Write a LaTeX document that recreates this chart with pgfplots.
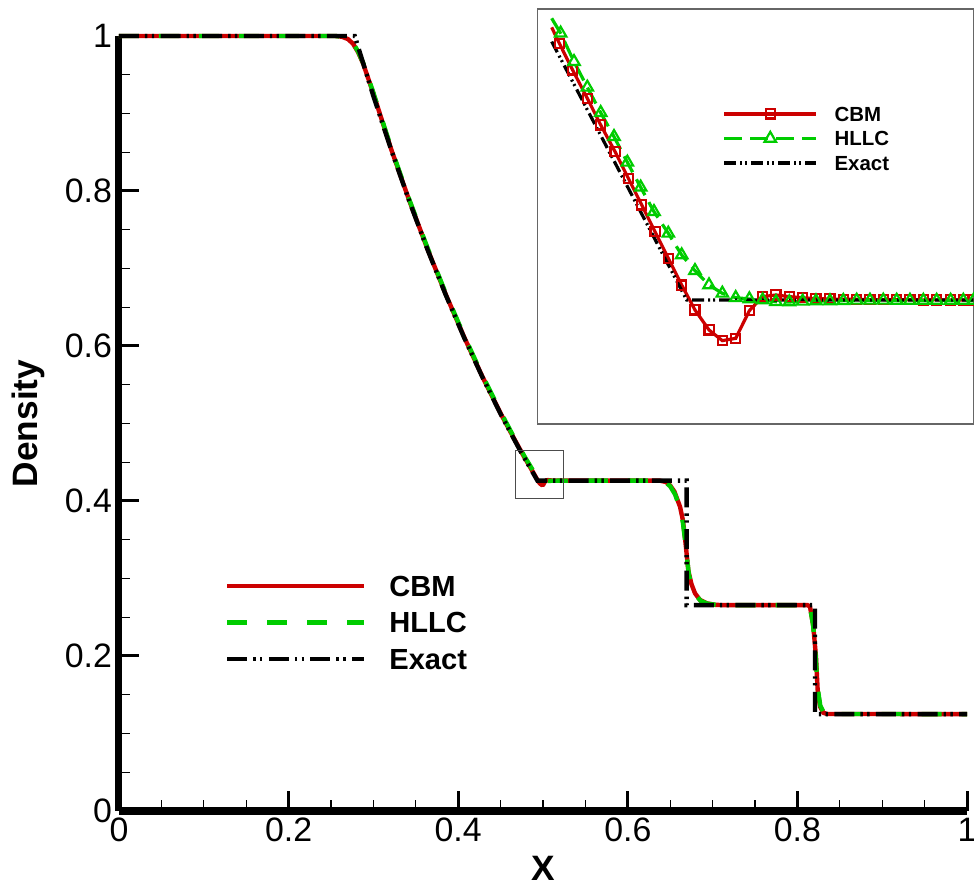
\documentclass[border=0pt]{standalone}
\usepackage{fontspec}
\setmainfont{Liberation Sans}
\usepackage{pgfplots}
\pgfplotsset{compat=1.18}
\definecolor{cbmred}{RGB}{204,0,0}
\definecolor{hllcgreen}{RGB}{0,204,0}

\begin{document}
\begin{tikzpicture}
\useasboundingbox (-59.5bp,-37.5bp) rectangle (427.5bp,405.5bp);
% main plot
\begin{axis}[
  at={(0,0)}, anchor=south west,
  width=424bp, height=387.5bp, scale only axis,
  xmin=0, xmax=1, ymin=0, ymax=1,
  axis lines=left, axis line style={-, line width=3.5bp},
  clip=false,
  xtick={0,0.2,0.4,0.6,0.8,1}, ytick={0,0.2,0.4,0.6,0.8,1},
  minor x tick num=3, minor y tick num=3,
  tick align=inside, major tick length=10bp, minor tick length=5.5bp,
  major tick style={line width=1.5bp, black}, minor tick style={line width=0.6bp, black},
  tick label style={font=\fontsize{17}{20}\selectfont},
  /pgf/number format/assume math mode=true,
  xlabel={X}, ylabel={Density},
  label style={font=\bfseries\fontsize{17.7}{21}\selectfont},
  xlabel style={at={(axis description cs:0.5,-0.0735)}, anchor=center, inner sep=0pt, text depth=0pt},
  ylabel style={at={(axis description cs:-0.1073,0.5)}, anchor=center},
  legend style={draw=none, fill=none, inner sep=0pt, outer sep=0pt,
    at={(axis cs:0.125,0.3038)}, anchor=north west, row sep=7.8bp, column sep=11.5bp,
    nodes={inner sep=0pt, text height=10.45bp, text depth=0bp,
      font=\bfseries\fontsize{14.6}{17}\selectfont}},
  legend cell align=left,
  legend image code/.code={\draw[#1] (0bp,0bp) -- (68.5bp,0bp);},
]
\addplot[cbmred, line width=2.2bp] coordinates {
(0,1)(0.255,1)(0.263,0.999)(0.270,0.996)(0.276,0.990)(0.282,0.979)(0.288,0.964)
(0.2996,0.927)(0.3211,0.8535)(0.34265,0.7866)(0.3642,0.724)(0.38575,0.6655)
(0.4073,0.6108)(0.42885,0.5598)(0.4504,0.5122)(0.466,0.4803)(0.47498,0.46237)
(0.47603,0.46025)(0.47786,0.45672)(0.47988,0.45296)(0.48172,0.44943)(0.48369,0.44590)
(0.48552,0.44236)(0.48736,0.43883)(0.48919,0.43529)(0.49102,0.43176)(0.49286,0.42822)
(0.49469,0.42491)(0.49662,0.42226)(0.49845,0.42085)(0.50029,0.42115)(0.50217,0.42482)
(0.50400,0.42668)(0.50583,0.42690)(0.50767,0.42668)(0.50950,0.42654)(0.51133,0.42641)
(0.51326,0.42637)(0.51509,0.42632)(0.51693,0.42632)(0.51876,0.42628)(0.52059,0.42628)
(0.52243,0.42626)(0.52426,0.42626)(0.52610,0.42625)(0.52793,0.42625)(0.52985,0.42624)
(0.53160,0.42624)(0.54,0.4262)(0.638,0.4262)(0.645,0.4245)(0.650,0.420)(0.655,0.412)
(0.6616,0.3926)(0.665,0.375)(0.6675,0.352)(0.6714,0.310)(0.675,0.293)(0.6792,0.281)
(0.685,0.2725)(0.693,0.268)(0.703,0.266)(0.715,0.2656)(0.812,0.2656)(0.8149,0.2636)
(0.8188,0.2378)(0.8219,0.199)(0.8239,0.156)(0.8267,0.1346)(0.8306,0.1268)(0.835,0.1252)(1,0.125)};
\addlegendentry{CBM}
\addplot[hllcgreen, line width=2.2bp, dash pattern=on 10bp off 10bp] coordinates {
(0,1)(0.255,1)(0.263,0.999)(0.270,0.996)(0.276,0.991)(0.282,0.980)(0.288,0.965)
(0.2996,0.928)(0.3211,0.855)(0.34265,0.788)(0.3642,0.7255)(0.38575,0.667)
(0.4073,0.6125)(0.42885,0.5615)(0.4504,0.514)(0.466,0.4818)(0.47498,0.46357)
(0.47621,0.46158)(0.47805,0.45782)(0.47988,0.45442)(0.48172,0.45106)(0.48355,0.44788)
(0.48539,0.44448)(0.48722,0.44117)(0.48905,0.43794)(0.49102,0.43507)(0.49286,0.43220)
(0.49469,0.43012)(0.49662,0.42822)(0.49845,0.42712)(0.50029,0.42654)(0.50217,0.42637)
(0.50400,0.42623)(0.50583,0.42601)(0.50767,0.42597)(0.50950,0.42606)(0.51133,0.42610)
(0.51326,0.42610)(0.51509,0.42615)(0.51693,0.42619)(0.51876,0.42619)(0.52059,0.42619)
(0.52243,0.42618)(0.52426,0.42618)(0.52610,0.42617)(0.52793,0.42617)(0.52985,0.42617)
(0.53160,0.42617)(0.54,0.4262)(0.636,0.4262)(0.644,0.4245)(0.650,0.419)(0.656,0.408)
(0.661,0.392)(0.665,0.372)(0.668,0.345)(0.672,0.305)(0.676,0.289)(0.680,0.279)
(0.686,0.271)(0.694,0.2675)(0.704,0.266)(0.716,0.2656)(0.812,0.2656)(0.815,0.262)
(0.8185,0.240)(0.8215,0.200)(0.824,0.158)(0.827,0.136)(0.831,0.127)(0.836,0.1252)(1,0.125)};
\addlegendentry{HLLC}
\addplot[black, line width=2.2bp, dash pattern=on 10bp off 3bp on 1.2bp off 2.2bp on 1.2bp off 3.2bp] coordinates {
(0,1)(0.278,1)(0.29955,0.9240)(0.3211,0.8527)(0.34265,0.7859)(0.3642,0.7233)
(0.38575,0.6648)(0.4073,0.6101)(0.42885,0.5591)(0.4504,0.5115)(0.47195,0.4673)
(0.4935,0.4262)(0.6694,0.4262)(0.6694,0.2656)(0.8208,0.2656)(0.8208,0.125)(1,0.125)};
\addlegendentry{Exact}
\draw[black!70, line width=0.6bp] (axis cs:0.4676,0.4035) rectangle (axis cs:0.5237,0.4649);
\end{axis}
% inset
\begin{axis}[
  at={(209.15bp,193.5bp)}, anchor=south west,
  width=218.1bp, height=207.5bp, scale only axis,
  xmin=0.473, xmax=0.533, ymin=0.4098, ymax=0.4648,
  xtick=\empty, ytick=\empty,
  axis line style={black!60, line width=0.8bp},
  axis background/.style={fill=white},
  legend style={draw=none, fill=none, inner sep=0pt, outer sep=0pt,
    at={(axis cs:0.4985,0.45186)}, anchor=north west, row sep=4.9bp, column sep=8.35bp,
    nodes={inner sep=0pt, text height=7.34bp, text depth=0bp,
      font=\bfseries\fontsize{10.25}{12}\selectfont}},
  legend cell align=left,
  legend image code/.code={\draw[#1, mark repeat=2, mark phase=2] plot coordinates {(0bp,0bp) (23bp,0bp) (46bp,0bp)};},
]
\addplot[cbmred, line width=1.6bp, mark=square, mark size=2.3bp, mark phase=2,
  mark options={solid, line width=1.1bp}] coordinates {
(0.47498,0.46237)
(0.47603,0.46025)(0.47786,0.45672)(0.47988,0.45296)(0.48172,0.44943)(0.48369,0.44590)
(0.48552,0.44236)(0.48736,0.43883)(0.48919,0.43529)(0.49102,0.43176)(0.49286,0.42822)
(0.49469,0.42491)(0.49662,0.42226)(0.49845,0.42085)(0.50029,0.42115)(0.50217,0.42482)
(0.50400,0.42668)(0.50583,0.42690)(0.50767,0.42668)(0.50950,0.42654)(0.51133,0.42641)
(0.51326,0.42637)(0.51509,0.42632)(0.51693,0.42632)(0.51876,0.42628)(0.52059,0.42628)
(0.52243,0.42626)(0.52426,0.42626)(0.52610,0.42625)(0.52793,0.42625)(0.52985,0.42624)
(0.53160,0.42624)(0.533,0.42624)};
\addlegendentry{CBM}
\addplot[hllcgreen, line width=1.6bp, dash pattern=on 9bp off 4bp, mark=triangle, mark size=3.3bp,
  mark phase=2, mark options={solid, line width=1.1bp}] coordinates {
(0.47498,0.46357)
(0.47621,0.46158)(0.47805,0.45782)(0.47988,0.45442)(0.48172,0.45106)(0.48355,0.44788)
(0.48539,0.44448)(0.48722,0.44117)(0.48905,0.43794)(0.49102,0.43507)(0.49286,0.43220)
(0.49469,0.43012)(0.49662,0.42822)(0.49845,0.42712)(0.50029,0.42654)(0.50217,0.42637)
(0.50400,0.42623)(0.50583,0.42601)(0.50767,0.42597)(0.50950,0.42606)(0.51133,0.42610)
(0.51326,0.42610)(0.51509,0.42615)(0.51693,0.42619)(0.51876,0.42619)(0.52059,0.42619)
(0.52243,0.42618)(0.52426,0.42618)(0.52610,0.42617)(0.52793,0.42617)(0.52985,0.42617)
(0.53160,0.42617)(0.533,0.42617)};
\addlegendentry{HLLC}
\addplot[black, line width=1.6bp, dash pattern=on 6bp off 2bp on 1bp off 1.5bp on 1bp off 2bp] coordinates {
(0.47498,0.46048)(0.49355,0.42623)(0.533,0.42623)};
\addlegendentry{Exact}
\end{axis}
\end{tikzpicture}
\end{document}
